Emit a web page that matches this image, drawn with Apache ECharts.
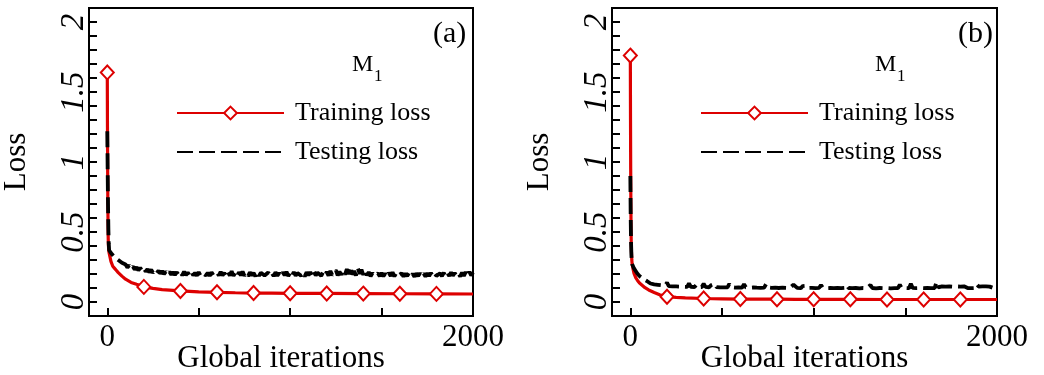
<!DOCTYPE html>
<html><head><meta charset="utf-8">
<script src="https://cdn.jsdelivr.net/npm/echarts@6/dist/echarts.min.js"></script>
<style>html,body{margin:0;padding:0;background:#fff}#c{width:1044px;height:375px}</style>
</head><body><div id="c"></div><script>
// ---------- data ----------
const markerIters = [0, 200, 400, 600, 800, 1000, 1200, 1400, 1600, 1800];

const trainItersA = [0,1,2,3,4,5,6,8,10,15,20,30,40,50,60,80,100,130,160,200,250,300,400,500,600,700,800,900,1000,1200,1400,1600,1800,2000];
const trainLossA  = [1.64,1.25,0.95,0.72,0.58,0.46,0.41,0.37,0.35,0.32,0.29,0.255,0.24,0.225,0.21,0.185,0.163,0.14,0.126,0.108,0.097,0.089,0.079,0.073,0.069,0.066,0.064,0.063,0.062,0.061,0.060,0.059,0.058,0.057];

const trainItersB = [0,1,2,3,4,5,6,8,10,15,20,30,40,50,60,80,100,130,160,200,250,300,400,500,600,700,800,900,1000,1200,1400,1600,1800,2000];
const trainLossB  = [1.76,1.30,0.95,0.70,0.52,0.42,0.36,0.30,0.27,0.235,0.205,0.172,0.152,0.135,0.122,0.102,0.086,0.068,0.052,0.038,0.033,0.029,0.025,0.023,0.021,0.020,0.020,0.019,0.019,0.019,0.018,0.018,0.018,0.018];

// testing loss: first few early samples, then one sample every 10 iterations from 10 to 2000
const testHeadIters = [0, 2, 4, 6, 8];
const testHeadA = [1.22, 0.95, 0.70, 0.52, 0.42];
const testTailA = [
  0.37,0.35,0.34,0.32,0.31,0.30,0.295,0.28,0.275,
  0.268,0.246,0.262,0.238,0.254,0.232,0.249,0.226,0.244,0.222,
  0.240,0.218,0.235,0.212,0.231,0.209,0.226,0.207,0.223,0.203,
  0.221,0.199,0.217,0.197,0.216,0.195,0.214,0.194,0.213,0.193,
  0.212,0.190,0.218,0.192,0.210,0.189,0.214,0.191,0.208,0.188,
  0.213,0.189,0.207,0.217,0.190,0.209,0.187,0.212,0.192,0.186,
  0.211,0.189,0.216,0.190,0.208,0.186,0.214,0.189,0.219,0.187,
  0.209,0.184,0.213,0.190,0.217,0.188,0.207,0.185,0.212,0.190,
  0.207,0.184,0.215,0.187,0.209,0.222,0.189,0.183,0.211,0.188,
  0.206,0.185,0.213,0.187,0.208,0.184,0.212,0.190,0.216,0.186,
  0.209,0.185,0.214,0.188,0.207,0.219,0.187,0.210,0.183,0.212,
  0.190,0.214,0.186,0.217,0.189,0.210,0.220,0.187,0.213,0.191,
  0.215,0.188,0.222,0.192,0.212,0.228,0.190,0.217,0.194,0.224,
  0.196,0.234,0.200,0.252,0.195,0.221,0.189,0.242,0.203,0.231,
  0.194,0.225,0.190,0.214,0.184,0.207,0.187,0.181,0.205,0.185,
  0.207,0.184,0.204,0.181,0.209,0.186,0.212,0.183,0.206,0.187,
  0.184,0.205,0.182,0.203,0.185,0.206,0.183,0.202,0.181,0.204,
  0.185,0.206,0.183,0.203,0.182,0.205,0.186,0.208,0.184,0.204,
  0.187,0.182,0.205,0.185,0.209,0.183,0.206,0.186,0.212,0.188,
  0.207,0.185,0.204,0.183,0.210,0.187,0.213,0.186,0.216,0.190,
  0.211
];
const testHeadB = [0.90, 0.60, 0.42, 0.33, 0.29];
const testTailB = [
  0.27,0.24,0.22,0.20,0.185,0.175,0.165,0.155,0.15,
  0.145,0.132,0.141,0.126,0.136,0.123,0.134,0.120,0.130,0.118,
  0.139,0.114,0.128,0.112,0.125,0.111,0.123,0.110,0.122,0.109,
  0.121,0.108,0.133,0.109,0.120,0.107,0.122,0.106,0.119,0.107,
  0.130,0.108,0.118,0.105,0.120,0.106,0.131,0.107,0.117,0.104,
  0.116,0.104,0.118,0.105,0.129,0.106,0.116,0.103,0.115,0.104,
  0.117,0.103,0.128,0.105,0.115,0.102,0.114,0.104,0.116,0.102,
  0.113,0.101,0.115,0.103,0.127,0.104,0.114,0.101,0.113,0.102,
  0.114,0.100,0.112,0.102,0.115,0.101,0.113,0.100,0.111,0.124,
  0.113,0.101,0.112,0.099,0.114,0.102,0.116,0.100,0.111,0.101,
  0.113,0.099,0.111,0.101,0.122,0.102,0.112,0.099,0.110,0.100,
  0.112,0.099,0.110,0.100,0.113,0.099,0.111,0.101,0.120,0.100,
  0.111,0.099,0.110,0.100,0.112,0.098,0.110,0.100,0.113,0.099,
  0.110,0.121,0.100,0.111,0.098,0.110,0.100,0.112,0.099,0.110,
  0.100,0.112,0.098,0.110,0.099,0.111,0.100,0.123,0.099,0.110,
  0.100,0.112,0.099,0.130,0.101,0.111,0.099,0.110,0.100,0.112,
  0.099,0.110,0.100,0.113,0.099,0.111,0.100,0.145,0.104,0.101,
  0.111,0.099,0.110,0.100,0.112,0.099,0.110,0.100,0.111,0.099,
  0.110,0.100,0.112,0.122,0.100,0.110,0.099,0.111,0.100,0.125,
  0.110,0.099,0.111,0.100,0.112,0.099,0.110,0.122,0.100,0.111,
  0.101
];

const xTickValues = [0, 500, 1000, 1500, 2000];
const xLabelValues = [0, 2000];
const yTickValues = [0,0.1,0.2,0.3,0.4,0.5,0.6,0.7,0.8,0.9,1.0,1.1,1.2,1.3,1.4,1.5,1.6,1.7,1.8,1.9,2.0];
const yLabelValues = [0, 0.5, 1, 1.5, 2];
const panelTags = ['(a)', '(b)'];
const legendNames = ['Training loss', 'Testing loss'];
const xName = 'Global iterations';
const yName = 'Loss';

// ---------- build ----------
const FONT = "'Liberation Serif','DejaVu Serif',serif";
const RED = '#dd0000';

function testPairs(head, tail) {
  const out = head.map((v, i) => [testHeadIters[i], v]);
  tail.forEach((v, i) => out.push([10 + 10 * i, v]));
  return out;
}
function trainItems(iters, loss) {
  return iters.map((x, i) => {
    const it = { value: [x, loss[i]] };
    if (markerIters.indexOf(x) < 0) it.symbol = 'none';
    return it;
  });
}

const grids = [
  { left: 89, right: 571, top: 8, bottom: 59 },
  { left: 612, right: 47, top: 8, bottom: 59 }
];

const chart = echarts.init(document.getElementById('c'), null, { renderer: 'canvas' });

const xAxes = grids.map((g, i) => ({
  type: 'value', gridIndex: i, min: -100, max: 2000,
  name: xName, nameLocation: 'middle', nameGap: 27, nameMoveOverlap: false,
  nameTextStyle: { fontFamily: FONT, fontSize: 31, color: '#000' },
  axisLine: { show: false, onZero: false },
  splitLine: { show: false },
  axisTick: { show: true, inside: true, length: 8, customValues: xTickValues, lineStyle: { color: '#000', width: 2 } },
  axisLabel: { customValues: xLabelValues, fontFamily: FONT, fontSize: 31, color: '#000', margin: 6,
    formatter: v => String(v) }
}));
const yAxes = grids.map((g, i) => ({
  type: 'value', gridIndex: i, min: -0.1, max: 2.1,
  name: yName, nameLocation: 'middle', nameGap: 57, nameMoveOverlap: false,
  nameTextStyle: { fontFamily: FONT, fontSize: 31, color: '#000' },
  axisLine: { show: false, onZero: false },
  splitLine: { show: false },
  axisTick: { show: true, inside: true, length: 8, customValues: yTickValues, lineStyle: { color: '#000', width: 2 } },
  axisLabel: { customValues: yLabelValues, rotate: 90, fontFamily: FONT, fontStyle: 'italic', fontSize: 33, color: '#000', margin: -2,
    formatter: v => String(v) }
}));

const trainSets = [[trainItersA, trainLossA], [trainItersB, trainLossB]];
const testSets = [[testHeadA, testTailA], [testHeadB, testTailB]];
const series = [];
grids.forEach((g, i) => {
  series.push({
    name: legendNames[0], type: 'line', xAxisIndex: i, yAxisIndex: i,
    data: trainItems(trainSets[i][0], trainSets[i][1]),
    symbol: 'diamond', symbolSize: [13, 14], showAllSymbol: true,
    itemStyle: { color: '#fff', borderColor: RED, borderWidth: 2 },
    lineStyle: { color: RED, width: 3.2 },
    z: 2, animation: false
  });
  series.push({
    name: legendNames[1], type: 'line', xAxisIndex: i, yAxisIndex: i,
    data: testPairs(testSets[i][0], testSets[i][1]),
    symbol: 'none', showSymbol: false,
    itemStyle: { color: '#000' },
    lineStyle: { color: '#000', width: 3.8, type: [16, 6] },
    z: 3, animation: false
  });
});

const legendLeft = [176, 700];
const legends = legendLeft.map(l => ({
  left: l, top: 98, padding: 0, orient: 'vertical', selectedMode: false,
  itemWidth: 107, itemHeight: 16, itemGap: 9,
  data: [legendNames[0], { name: legendNames[1], itemStyle: { opacity: 0 } }],
  textStyle: { fontFamily: FONT, fontSize: 26, lineHeight: 30, color: '#000', padding: [0, 0, 0, 6] }
}));

const tagLeft = [433, 958];
const mLeft = [352, 875];
const titles = [];
panelTags.forEach((t, i) => {
  titles.push({ text: t, left: tagLeft[i], top: 19, padding: 0,
    textStyle: { fontFamily: FONT, fontSize: 30, fontWeight: 'normal', color: '#000' } });
  titles.push({ text: 'M', left: mLeft[i], top: 53, padding: 0,
    textStyle: { fontFamily: FONT, fontSize: 24, fontWeight: 'normal', color: '#000' } });
  titles.push({ text: '1', left: mLeft[i] + 22, top: 68, padding: 0,
    textStyle: { fontFamily: FONT, fontSize: 17, fontWeight: 'normal', color: '#000' } });
});

chart.setOption({
  animation: false,
  backgroundColor: '#fff',
  title: titles,
  legend: legends,
  grid: grids.map(g => Object.assign({ show: true, borderColor: '#000', borderWidth: 2, backgroundColor: 'transparent', outerBoundsMode: 'none', containLabel: false }, g)),
  xAxis: xAxes,
  yAxis: yAxes,
  series: series
});
</script></body></html>
